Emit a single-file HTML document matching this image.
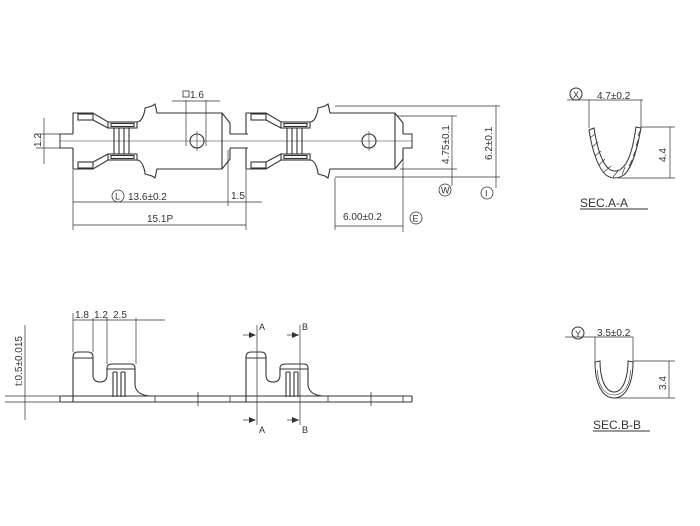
<!DOCTYPE html>
<html><head><style>
html,body{margin:0;padding:0;background:#fff;}
svg{display:block;}
text{font-family:"Liberation Sans",sans-serif;fill:#333;}
</style></head><body>
<svg width="700" height="526" viewBox="0 0 700 526" xmlns="http://www.w3.org/2000/svg">
<defs>
<g id="unit" fill="none" stroke="#333" stroke-width="1.1">
  <path d="M73,134 L73,113 L93,113 L108,122 L137,122 C143,122 145,110 145,108 L152,106 L155,104 L157,113 L222,113 L230,123 L230,134"/>
  <path d="M73,148 L73,169 L93,169 L108,160 L137,160 C143,160 145,172 145,174 L152,176 L155,178 L157,169 L222,169 L230,159 L230,148"/>
  <rect x="78" y="114" width="15" height="6"/>
  <rect x="78" y="162" width="15" height="6"/>
  <path d="M93,120 L108,128"/><path d="M93,162 L108,154"/>
  <rect x="108" y="122" width="29" height="6"/>
  <rect x="108" y="154" width="29" height="6"/>
  <rect x="111" y="123.5" width="23" height="3"/>
  <rect x="111" y="155.5" width="23" height="3"/>
  <path d="M114,128 V154 M119,128 V154 M124,128 V154 M129,128 V154"/>
  <path d="M222,113 V169"/>
</g>
</defs>

<g fill="none" stroke="#333" stroke-width="1">
  <path d="M60,134 H73 M60,148 H73 M60,134 V148"/>
  <path d="M230,134 H248 M230,148 H248"/>
  <path d="M403,134 H412 V148 H403"/>
  <path d="M60,141 H412" stroke-width="0.6"/>
</g>
<use href="#unit"/>
<g transform="translate(173,0)">
  <use href="#unit"/>
</g>
<g fill="none" stroke="#333" stroke-width="1.1">
  <circle cx="197" cy="141" r="7"/>
  <circle cx="369" cy="141" r="7"/>
  <path d="M197,131 V151 M369,131 V151" stroke-width="0.6"/>
</g>

<g fill="none" stroke="#333" stroke-width="0.7">
  <path d="M44,118 V164 M36,134 H60 M36,148 H60"/>
  <path d="M186,100 V146 M206,100 V146 M172,101 H220"/>
  <path d="M73,170 V230 M228,150 V206 M246,170 V230"/>
  <path d="M73,202 H262"/>
  <path d="M73,225 H246"/>
  <path d="M335,106 H500 M397,116 H457 M400,169 H457 M335,177 H500"/>
  <path d="M452,116 V186 M496,106 V188"/>
  <path d="M335,178 V230 M403,150 V232 M335,226 H403"/>
</g>
<g fill="none" stroke="#333" stroke-width="0.8">
  <circle cx="118" cy="196" r="6"/>
  <circle cx="445" cy="190" r="6"/>
  <circle cx="487" cy="193" r="6"/>
  <circle cx="416" cy="218" r="6"/>
  <rect x="183" y="91" width="6" height="6"/>
</g>
<g font-size="10">
  <text x="115" y="199.5" font-size="9">L</text>
  <text x="441" y="193.5" font-size="9">W</text>
  <text x="485" y="196.5" font-size="9">I</text>
  <text x="412.5" y="221.5" font-size="9">E</text>
  <text x="190" y="98">1.6</text>
  <text x="128" y="200">13.6±0.2</text>
  <text x="231" y="199">1.5</text>
  <text x="147" y="222">15.1P</text>
  <text x="343" y="220">6.00±0.2</text>
  <text transform="translate(41,147) rotate(-90)">1.2</text>
  <text transform="translate(449,164) rotate(-90)">4.75±0.1</text>
  <text transform="translate(492,160) rotate(-90)">6.2±0.1</text>
</g>

<g fill="none" stroke="#333" stroke-width="1.1">
  <path d="M60,396 H412 M60,402 H412 M60,396 V402 M412,396 V402"/>
  <path d="M73,402 V357 Q73,352 78,352 H88 Q93,352 93,357 V375 Q93,382 100,382 Q107,382 107,375 V368 Q107,364 112,364 H131 Q135,364 135,368 V385 Q136,395 150,396"/>
  <path d="M73,358 H93 M107,369 H135"/>
  <path d="M113,372 V397 M117,372 V397 M121,372 V397 M125,372 V397 M113,372 H117 M121,372 H125"/>
  <path d="M246,402 V357 Q246,352 251,352 H261 Q266,352 266,357 V375 Q266,382 273,382 Q280,382 280,375 V368 Q280,364 285,364 H304 Q308,364 308,368 V385 Q309,395 323,396"/>
  <path d="M246,358 H266 M280,369 H308"/>
  <path d="M286,372 V397 M290,372 V397 M294,372 V397 M298,372 V397 M286,372 H290 M294,372 H298"/>
  <path d="M155,396 V402 M198,392 V406 M230,396 V402 M328,396 V402 M371,392 V406 M403,396 V402" stroke-width="0.8"/>
</g>
<g fill="none" stroke="#333" stroke-width="0.7">
  <path d="M73,313 V352 M93,318 V352 M107,318 V364 M136,318 V364 M73,320 H165"/>
  <path d="M257,325 V425 M300,325 V425"/>
  <path d="M243,335 H255 M243,420 H255 M287,335 H299 M287,420 H299"/>
  <path d="M5,396 H60 M5,402 H60 M25,325 V420"/>
</g>
<g fill="#333">
  <path d="M256,335 L249,332 L249,338Z M256,420 L249,417 L249,423Z M299,335 L292,332 L292,338Z M299,420 L292,417 L292,423Z"/>
</g>
<g font-size="9">
  <text x="259" y="330">A</text>
  <text x="259" y="433">A</text>
  <text x="302" y="330">B</text>
  <text x="302" y="433">B</text>
  <text x="75" y="318" font-size="10">1.8</text>
  <text x="94" y="318" font-size="10">1.2</text>
  <text x="113" y="318" font-size="10">2.5</text>
  <text transform="translate(22,386) rotate(-90)" font-size="10">t:0.5±0.015</text>
</g>

<!-- SEC A-A -->
<g fill="none" stroke="#333" stroke-width="1">
  <circle cx="576" cy="94" r="6"/>
  <path d="M567,100 H643 M589,100 V128 M641,100 V128" stroke-width="0.7"/>
  <path d="M589,130 C592,150 598,168 606,175 Q614,181 624,175 C632,168 637,150 641,128 L636,127 C633,148 629,163 621,169 Q615,173 609,169 C602,163 597,148 594,128 Z"/>
  <path d="M590,138 L595,134 M592,147 L598,142 M595,156 L601,151 M599,165 L605,159 M604,172 L611,166 M613,177 L618,171 M622,175 L625,167 M629,166 L632,160 M633,156 L636,150 M636,146 L638,140 M638,136 L640,131" stroke-width="0.7"/>
  <path d="M641,127 H675 M618,178 H675 M670,127 V178" stroke-width="0.7"/>
  <path d="M580,209 H648" stroke-width="0.9"/>
</g>
<text x="573" y="98" font-size="9">X</text>
<text x="597" y="99" font-size="10">4.7±0.2</text>
<text transform="translate(666,162) rotate(-90)" font-size="10">4.4</text>
<text x="580" y="207" font-size="12">SEC.A-A</text>

<!-- SEC B-B -->
<g fill="none" stroke="#333" stroke-width="1">
  <circle cx="578" cy="333" r="6"/>
  <path d="M565,337 H633 M595,337 V363 M633,337 V363" stroke-width="0.7"/>
  <path d="M595,362 C595,385 603,398 614,398 C625,398 633,385 633,362 L628,361 C628,380 622,392 614,392 C606,392 600,380 600,361 Z"/>
  <path d="M597.5,370 C598,388 606,395 614,395 C622,395 630,388 630.5,370" stroke-width="0.6"/>
  <path d="M633,361 H675 M614,398 H675 M669,361 V398" stroke-width="0.7"/>
  <path d="M593,431 H650" stroke-width="0.9"/>
</g>
<text x="575" y="337" font-size="9">Y</text>
<text x="597" y="336" font-size="10">3.5±0.2</text>
<text transform="translate(666,390) rotate(-90)" font-size="10">3.4</text>
<text x="593" y="429" font-size="12">SEC.B-B</text>
</svg>
</body></html>
